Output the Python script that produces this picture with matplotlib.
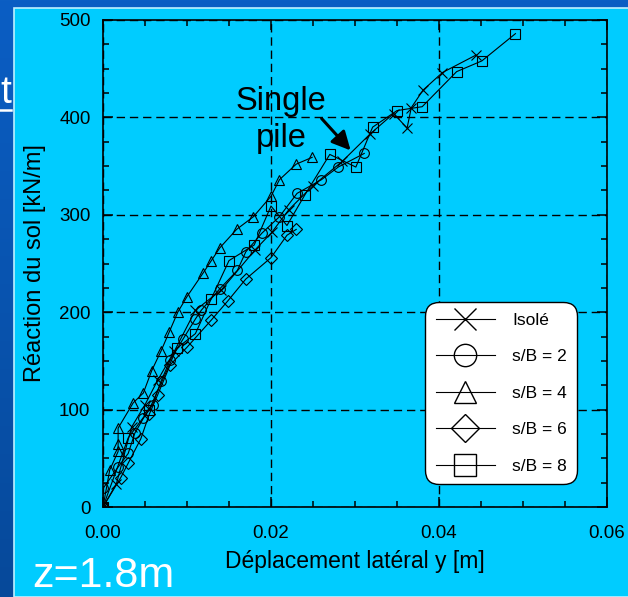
import numpy as np
import matplotlib
matplotlib.use("Agg")
import matplotlib.pyplot as plt
from matplotlib.patches import Rectangle
from matplotlib.ticker import MultipleLocator

plt.rcParams['font.family'] = ['Liberation Sans', 'DejaVu Sans']

# données (z = 1.8 m)
isole_y = [0.0, 0.0016, 0.0034, 0.0050, 0.0065, 0.0085, 0.0110, 0.0141, 0.0181, 0.0201,
           0.0221, 0.0250, 0.0285, 0.0318, 0.0346, 0.0362, 0.0367, 0.0381, 0.0404, 0.0444]
isole_p = [0, 24, 82, 105, 130, 160, 202, 223, 264, 282,
           305, 330, 355, 383, 404, 389, 410, 428, 446, 464]

sb2_y = [0.0, 0.0, 0.0018, 0.0030, 0.0038, 0.0048, 0.0059, 0.0069, 0.0080, 0.0095, 0.0110,
         0.0117, 0.0139, 0.0160, 0.0170, 0.0189, 0.0210, 0.0231, 0.0260, 0.0280, 0.0311]
sb2_p = [0, 19, 41, 55, 76, 91, 105, 129, 151, 172, 193,
         202, 224, 243, 262, 281, 298, 322, 336, 349, 363]

sb4_y = [0.0, 0.0008, 0.0018, 0.0018, 0.0018, 0.0036, 0.0048, 0.0058, 0.0069, 0.0079, 0.0089,
         0.0100, 0.0119, 0.0129, 0.0139, 0.0159, 0.0179, 0.0200, 0.0210, 0.0230, 0.0249]
sb4_p = [0, 38, 57, 65, 81, 107, 117, 140, 160, 180, 200,
         216, 240, 253, 266, 285, 298, 319, 336, 352, 359]

sb6_y = [0.0, 0.0021, 0.0030, 0.0045, 0.0055, 0.0065, 0.0080, 0.0100, 0.0129, 0.0149,
         0.0170, 0.0200, 0.0219, 0.0230]
sb6_p = [0, 30, 45, 70, 95, 115, 146, 164, 192, 212,
         234, 256, 279, 285]

sb8_y = [0.0, 0.0030, 0.0055, 0.0088, 0.0110, 0.0129, 0.0150, 0.0180, 0.0200, 0.0219,
         0.0240, 0.0270, 0.0301, 0.0321, 0.0350, 0.0380, 0.0421, 0.0451, 0.0491]
sb8_p = [0, 71, 100, 163, 178, 214, 253, 269, 309, 289,
         320, 362, 349, 390, 407, 411, 447, 458, 486]

series = [
    (isole_y, isole_p, 'x', 'Isolé'),
    (sb2_y, sb2_p, 'o', 's/B = 2'),
    (sb4_y, sb4_p, '^', 's/B = 4'),
    (sb6_y, sb6_p, 'D', 's/B = 6'),
    (sb8_y, sb8_p, 's', 's/B = 8'),
]

W, H = 628, 597
fig = plt.figure(figsize=(W / 100, H / 100), dpi=100)

# fond bleu dégradé + panneau cyan
bg = fig.add_axes([0, 0, 1, 1], zorder=-10)
grad = np.linspace(0, 1, 256).reshape(-1, 1)
bg.imshow(grad, aspect='auto', extent=[0, 1, 0, 1], origin='upper',
          cmap=matplotlib.colors.LinearSegmentedColormap.from_list('b', ['#0B5EC4', '#06499A']))
bg.add_patch(Rectangle((14 / W, 0), 1, 1 - 8 / H, facecolor='#00CCFF',
                       edgecolor='#BFEFFF', lw=1.2, transform=bg.transAxes))
bg.set_xlim(0, 1)
bg.set_ylim(0, 1)
bg.axis('off')

ax = fig.add_axes([103 / W, 1 - 507 / H, 504 / W, 487 / H])
ax.set_facecolor('#00CCFF')

for xs, ys, m, lab in series:
    ms = 6 if m == 'D' else 7
    ax.plot(xs, ys, '-', color='black', lw=0.8, marker=m, ms=ms,
            mfc='none', mec='black', mew=0.8, label=lab)

ax.set_xlim(0, 0.06)
ax.set_ylim(0, 500)
ax.xaxis.set_major_locator(MultipleLocator(0.02))
ax.xaxis.set_minor_locator(MultipleLocator(0.005))
ax.yaxis.set_major_locator(MultipleLocator(100))
ax.yaxis.set_minor_locator(MultipleLocator(25))
ax.xaxis.set_major_formatter(matplotlib.ticker.FormatStrFormatter('%.2f'))
ax.tick_params(which='both', direction='in', top=True, right=True, width=1.1)
ax.tick_params(which='major', length=7, labelsize=13.5)
ax.tick_params(axis='x', which='major', pad=13)
ax.tick_params(axis='y', which='major', pad=9)
ax.tick_params(which='minor', length=4.5)
for s in ax.spines.values():
    s.set_linewidth(1.2)

ax.grid(True, which='major', color='black', lw=1, linestyle=(0, (6, 3.5)))

ax.set_xlabel('Déplacement latéral y [m]', fontsize=16.5, labelpad=6)
ax.set_ylabel('Réaction du sol [kN/m]', fontsize=17, labelpad=9)

# annotation "Single pile"
ax.text(0.0212, 397, 'Single\npile', fontsize=23.5, ha='center', va='center',
        linespacing=1.25)
ax.annotate('', xy=(0.0297, 364), xytext=(0.0258, 401),
            arrowprops=dict(arrowstyle='-|>', color='black', lw=2.2, mutation_scale=28))

leg = ax.legend(loc='lower right', bbox_to_anchor=(0.941, 0.047), borderaxespad=0,
                fontsize=12.5, handlelength=3.4, handletextpad=1.0, labelspacing=1.23,
                borderpad=0.6, markerscale=2.3, frameon=True, fancybox=True,
                framealpha=1, facecolor='white', edgecolor='black')
leg.get_frame().set_linewidth(1.0)
leg.get_frame().set_boxstyle('round,pad=0,rounding_size=0.8')
for h in leg.legend_handles:
    h.set_markeredgewidth(1.0)

# textes de la diapo
fig.text(32 / W, 1 - 587 / H, 'z=1.8m', color='white', fontsize=31,
         ha='left', va='baseline')
fig.text(0, 1 - 103 / H, 't', color='white', fontsize=28, ha='left',
         va='baseline')
fig.add_artist(plt.Line2D([0, 11 / W], [1 - 110 / H, 1 - 110 / H], color='white', lw=1.8))

fig.savefig('out.png', dpi=100)
